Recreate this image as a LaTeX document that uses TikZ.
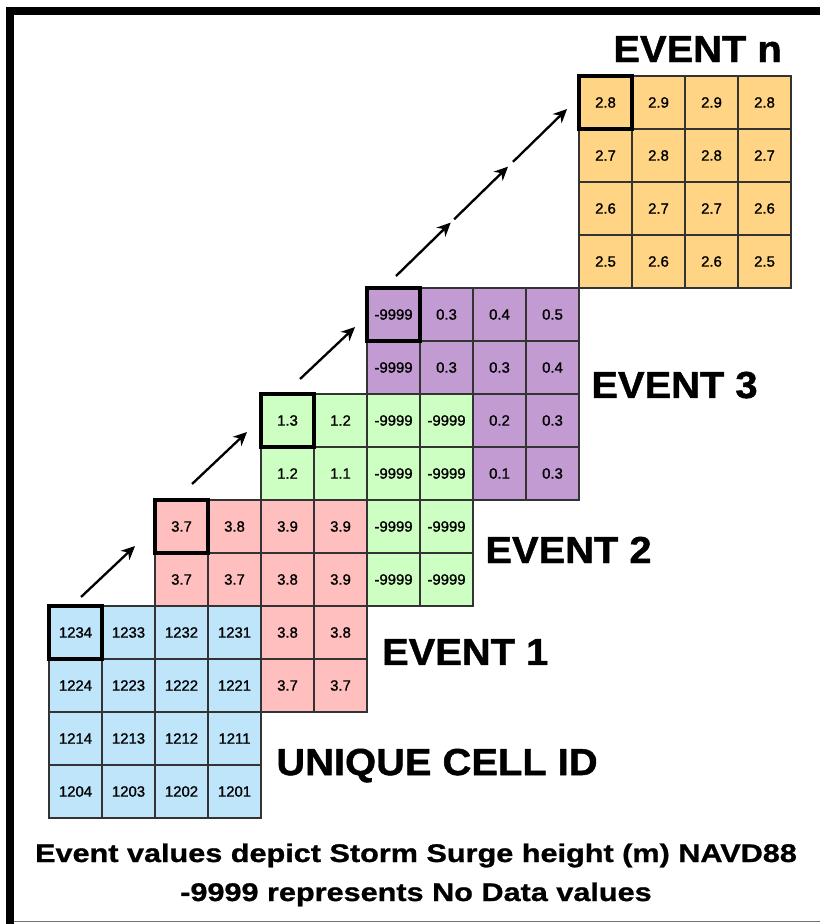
\documentclass[tikz,border=0pt]{standalone}
\usepackage{fontspec}
\setmainfont{Liberation Sans}
\newfontfamily\headfont{Liberation Sans}[FakeStretch=1.06,FakeBold=1.2]
\newfontfamily\notefont{Liberation Sans}[FakeStretch=1.2,FakeBold=1]
\newfontfamily\cellfont{Liberation Sans}[FakeBold=1.2]
\usetikzlibrary{arrows.meta,calc}
\definecolor{cellblue}{RGB}{190,229,250}
\definecolor{cellred}{RGB}{255,191,191}
\definecolor{cellgreen}{RGB}{206,255,194}
\definecolor{cellpurple}{RGB}{195,155,211}
\definecolor{cellorange}{RGB}{255,213,133}

\begin{document}
\begin{tikzpicture}[
    cell/.style={rectangle, draw=black!80, line width=0.6pt, minimum size=1cm, inner sep=0pt, outer sep=0pt, font=\cellfont\fontsize{8}{9}\selectfont},
    hilite/.style={draw=black, line width=2pt},
    arrow/.style={-{Stealth[length=2.6mm,width=2.4mm]}, line width=1.25pt},
    eventlabel/.style={anchor=base west, inner sep=0pt, font=\headfont\bfseries\fontsize{20.2}{24}\selectfont},
    note/.style={anchor=base, inner sep=0pt, font=\notefont\bfseries\fontsize{13.7}{16}\selectfont}
]
\useasboundingbox (0,0) rectangle (15.472,-17.434);

% frame
\fill[black] (0.113,-0.132) rectangle (15.472,-0.283);
\fill[black] (0.113,-0.132) rectangle (0.264,-17.434);
\draw[black!55, line width=0.5pt] (0.264,-17.39) -- (15.472,-17.39);

% event n
\begin{scope}[shift={(10.925,-1.434)}]
\foreach \row [count=\r] in {{2.8,2.9,2.9,2.8},{2.7,2.8,2.8,2.7},{2.6,2.7,2.7,2.6},{2.5,2.6,2.6,2.5}}
  \foreach \v [count=\c] in \row
    \node[cell, fill=cellorange] (n\r\c) at (\c-0.5,0.5-\r) {\v};
\end{scope}

% event 3
\begin{scope}[shift={(6.925,-5.434)}]
\foreach \row [count=\r] in {{-9999,0.3,0.4,0.5},{-9999,0.3,0.3,0.4}}
  \foreach \v [count=\c] in \row
    \node[cell, fill=cellpurple] (three\r\c) at (\c-0.5,0.5-\r) {\v};
\foreach \row [count=\r from 3] in {{0.2,0.3},{0.1,0.3}}
  \foreach \v [count=\c from 3] in \row
    \node[cell, fill=cellpurple] (three\r\c) at (\c-0.5,0.5-\r) {\v};
\end{scope}

% event 2
\begin{scope}[shift={(4.925,-7.434)}]
\foreach \row [count=\r] in {{1.3,1.2,-9999,-9999},{1.2,1.1,-9999,-9999}}
  \foreach \v [count=\c] in \row
    \node[cell, fill=cellgreen] (two\r\c) at (\c-0.5,0.5-\r) {\v};
\foreach \row [count=\r from 3] in {{-9999,-9999},{-9999,-9999}}
  \foreach \v [count=\c from 3] in \row
    \node[cell, fill=cellgreen] (two\r\c) at (\c-0.5,0.5-\r) {\v};
\end{scope}

% event 1
\begin{scope}[shift={(2.925,-9.434)}]
\foreach \row [count=\r] in {{3.7,3.8,3.9,3.9},{3.7,3.7,3.8,3.9}}
  \foreach \v [count=\c] in \row
    \node[cell, fill=cellred] (one\r\c) at (\c-0.5,0.5-\r) {\v};
\foreach \row [count=\r from 3] in {{3.8,3.8},{3.7,3.7}}
  \foreach \v [count=\c from 3] in \row
    \node[cell, fill=cellred] (one\r\c) at (\c-0.5,0.5-\r) {\v};
\end{scope}

% unique cell id
\begin{scope}[shift={(0.925,-11.434)}]
\foreach \row [count=\r] in {{1234,1233,1232,1231},{1224,1223,1222,1221},{1214,1213,1212,1211},{1204,1203,1202,1201}}
  \foreach \v [count=\c] in \row
    \node[cell, fill=cellblue] (id\r\c) at (\c-0.5,0.5-\r) {\v};
\end{scope}

\foreach \h in {id11,one11,two11,three11,n11}
  \draw[hilite] (\h.north west) rectangle (\h.south east);

\draw[arrow] ([shift={(0.604,0.170)}]id11.north west) -- ([shift={(-0.377,-0.868)}]one11.north west);
\draw[arrow] ([shift={(0.698,0.302)}]one11.north west) -- ([shift={(-0.264,-0.717)}]two11.north west);
\draw[arrow] ([shift={(0.736,0.283)}]two11.north west) -- ([shift={(-0.226,-0.736)}]three11.north west);
\coordinate (from3) at ([shift={(0.547,0.226)}]three11.north west);
\coordinate (ton) at ([shift={(-0.226,-0.623)}]n11.north west);
\draw[arrow] (from3) -- ($(from3)!0.32!(ton)$);
\draw[arrow] ($(from3)!0.34!(ton)$) -- ($(from3)!0.655!(ton)$);
\draw[arrow] ($(from3)!0.684!(ton)$) -- (ton);

\node[eventlabel] (lbln) at (11.566,-1.170) {EVENT n};
\node[eventlabel] (lbl3) at (11.151,-7.509) {EVENT 3};
\node[eventlabel] (lbl2) at (9.151,-10.623) {EVENT 2};
\node[eventlabel] (lbl1) at (7.202,-12.547) {EVENT 1};
\node[eventlabel] (lblid) at (5.208,-14.623) {UNIQUE CELL ID};

\node[note] (note1) at (7.849,-16.264) {Event values depict Storm Surge height (m) NAVD88};
\node[note] (note2) at (7.849,-17.0) {-9999 represents No Data values};
\end{tikzpicture}
\end{document}
